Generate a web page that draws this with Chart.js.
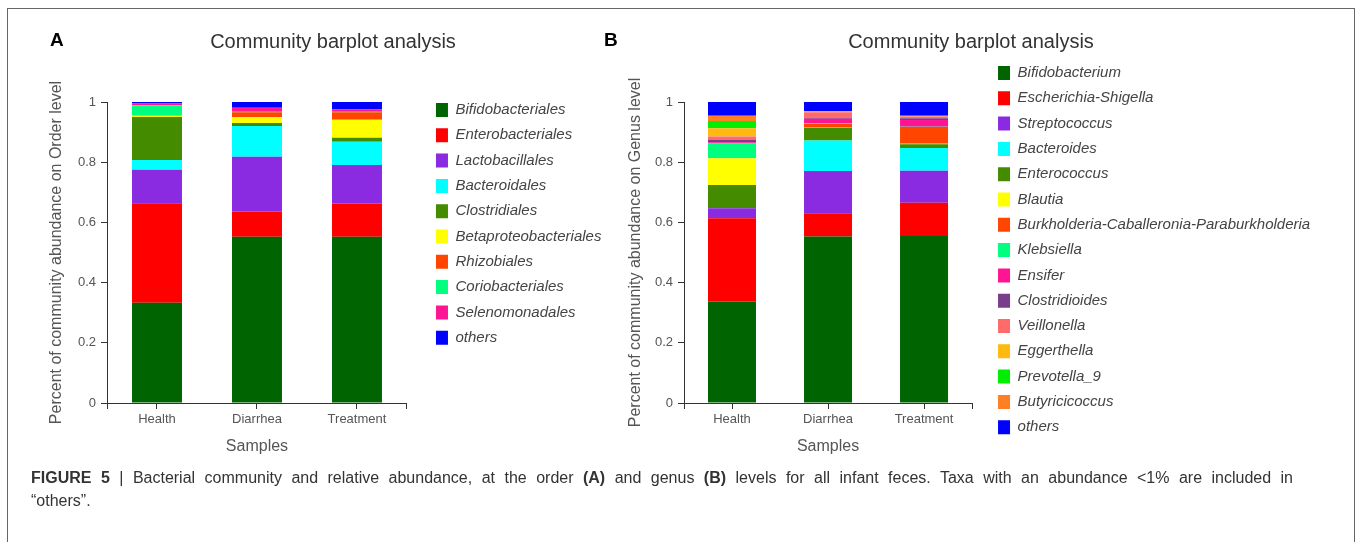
<!DOCTYPE html>
<html>
<head>
<meta charset="utf-8">
<script src="https://cdn.jsdelivr.net/npm/chart.js@4.4.1/dist/chart.umd.min.js"></script>
<style>
  body { margin: 0; background: #fff; font-family: "Liberation Sans", Arial, sans-serif; }
  #page { position: relative; width: 1357px; height: 542px; overflow: hidden; background: #fff; }
  #frame { position: absolute; left: 7px; top: 8px; width: 1346px; height: 600px; border: 1px solid #666; }
  canvas { position: absolute; top: 0; }
  #chartA { left: 0; }
  #chartB { left: 600px; }
  .tag { position: absolute; top: 30px; font: bold 19px "Liberation Sans", Arial, sans-serif; line-height: 1; color: #000; }
  #caption { position: absolute; left: 31px; top: 466px; width: 1262px; font-size: 16px; line-height: 23px; color: #333; }
  #caption .line1 { text-align: justify; text-align-last: justify; }
</style>
</head>
<body>
<div id="page">
  <div id="frame"></div>
  <canvas id="chartA" width="620" height="470"></canvas>
  <canvas id="chartB" width="757" height="470"></canvas>
  <div class="tag" style="left:50px">A</div>
  <div class="tag" style="left:604px">B</div>
  <div id="caption">
    <div class="line1"><b>FIGURE 5</b> | Bacterial community and relative abundance, at the order <b>(A)</b> and genus <b>(B)</b> levels for all infant feces. Taxa with an abundance &lt;1% are included in</div>
    <div>“others”.</div>
  </div>
</div>
<script>
const samples = ["Health", "Diarrhea", "Treatment"];

// panel A, order level (stack order bottom -> top)
const orderTaxa = ["Bifidobacteriales", "Enterobacteriales", "Lactobacillales", "Bacteroidales", "Clostridiales",
  "Betaproteobacteriales", "Rhizobiales", "Coriobacteriales", "Selenomonadales", "others"];
const orderHealth    = [0.333, 0.331, 0.111, 0.032, 0.143, 0.004, 0.001, 0.034, 0.007, 0.004];
const orderDiarrhea  = [0.552, 0.084, 0.182, 0.102, 0.010, 0.020, 0.016, 0.002, 0.013, 0.019];
const orderTreatment = [0.552, 0.111, 0.128, 0.077, 0.013, 0.060, 0.025, 0.002, 0.008, 0.024];

// panel B, genus level
const genusTaxa = ["Bifidobacterium", "Escherichia-Shigella", "Streptococcus", "Bacteroides", "Enterococcus", "Blautia",
  "Burkholderia-Caballeronia-Paraburkholderia", "Klebsiella", "Ensifer", "Clostridioides", "Veillonella",
  "Eggerthella", "Prevotella_9", "Butyricicoccus", "others"];
const genusHealth    = [0.337, 0.277, 0.033, 0.000, 0.077, 0.089, 0.000, 0.049, 0.004, 0.008, 0.011, 0.028, 0.024, 0.017, 0.046];
const genusDiarrhea  = [0.553, 0.077, 0.141, 0.101, 0.043, 0.002, 0.010, 0.002, 0.015, 0.004, 0.018, 0.002, 0.000, 0.002, 0.030];
const genusTreatment = [0.555, 0.110, 0.107, 0.075, 0.013, 0.001, 0.056, 0.001, 0.022, 0.006, 0.006, 0.001, 0.000, 0.001, 0.046];

const orderColors = ["#006400", "#ff0000", "#8a2be2", "#00ffff", "#458b00", "#ffff00", "#ff4500", "#00ff7f", "#ff1493", "#0000ff"];
const genusColors = ["#006400", "#ff0000", "#8a2be2", "#00ffff", "#458b00", "#ffff00", "#ff4500", "#00ff7f", "#ff1493",
  "#7a3d8c", "#ff6a6a", "#ffb90f", "#00ee00", "#ff7f24", "#0000ff"];

Chart.defaults.font.family = '"Liberation Sans", Arial, sans-serif';

// empty axis used only to hold space on the right
function spacer(width, weight) {
  return {
    type: "linear", position: "right", weight: weight,
    grid: { display: false }, border: { display: false }, ticks: { display: false },
    afterFit: function (s) { s.width = width; }
  };
}

function createChart(id, taxa, colors, health, diarrhea, treatment, yTitle, g) {
  const datasets = taxa.map(function (name, i) {
    return {
      label: name,
      data: [health[i], diarrhea[i], treatment[i]],
      backgroundColor: colors[i],
      borderWidth: 0,
      barPercentage: 0.5,
      categoryPercentage: 1
    };
  });
  return new Chart(document.getElementById(id), {
    type: "bar",
    data: { labels: samples, datasets: datasets },
    options: {
      responsive: false,
      animation: false,
      layout: { padding: { left: g.padLeft, right: g.padRight, top: 0, bottom: 0 } },
      plugins: {
        title: {
          display: true, text: "Community barplot analysis", color: "#333",
          font: { size: 20, weight: "normal", lineHeight: 1.2 },
          padding: { top: 30, bottom: 48 }
        },
        legend: {
          position: "right", align: "start", maxWidth: 500,
          // empty title just pushes the first entry down
          title: { display: true, text: "", font: { size: 1, lineHeight: 1 }, padding: { top: g.legendTop - 11.3, bottom: 0 } },
          labels: { boxWidth: 12, boxHeight: 14, padding: 10.3, color: "#444", font: { size: 15, style: "italic" } }
        },
        tooltip: { enabled: false }
      },
      scales: {
        x: {
          stacked: true,
          grid: { offset: false, drawOnChartArea: false, tickLength: 6, color: "#333" },
          border: { color: "#333" },
          ticks: { color: "#555", font: { size: 13 }, padding: 3 },
          title: { display: true, text: "Samples", color: "#555", font: { size: 16 }, padding: { top: 0, bottom: 13.4 } },
          afterFit: function (s) { s.height = 67; }
        },
        // only draws the two end ticks of the x axis
        ends: {
          type: "category", position: "bottom", weight: -1, offset: true,
          grid: {
            offset: true, drawOnChartArea: false, tickLength: 6,
            color: function (c) { return (c.type !== "tick" || c.index === 0) ? "#333" : "rgba(0,0,0,0)"; }
          },
          border: { display: false }, ticks: { display: false },
          afterFit: function (s) { s.height = 0; }
        },
        y: {
          stacked: true, min: 0, max: 1,
          ticks: {
            stepSize: 0.2, color: "#555", font: { size: 13 }, padding: 5,
            callback: function (v) { return String(Math.round(v * 10) / 10); }
          },
          grid: { drawOnChartArea: false, tickLength: 6, color: "#333" },
          border: { color: "#333" },
          title: { display: true, text: yTitle, color: "#555", font: { size: 16 }, padding: { top: g.yTitlePad, bottom: 0 } },
          afterFit: function (s) { s.width = g.yWidth; }
        },
        gap: spacer(g.innerGap, 1),
        tail: spacer(g.outerGap, 2000)
      }
    }
  });
}

createChart("chartA", orderTaxa, orderColors, orderHealth, orderDiarrhea, orderTreatment,
  "Percent of community abundance on Order level",
  { padLeft: 46, padRight: 0, yWidth: 61, yTitlePad: 1, innerGap: 18.7, outerGap: 8.6, legendTop: 102.5 });
createChart("chartB", genusTaxa, genusColors, genusHealth, genusDiarrhea, genusTreatment,
  "Percent of community abundance on Genus level",
  { padLeft: 18, padRight: 33, yWidth: 66, yTitlePad: 8.4, innerGap: 15.7, outerGap: 3.8, legendTop: 65.5 });
</script>
</body>
</html>
